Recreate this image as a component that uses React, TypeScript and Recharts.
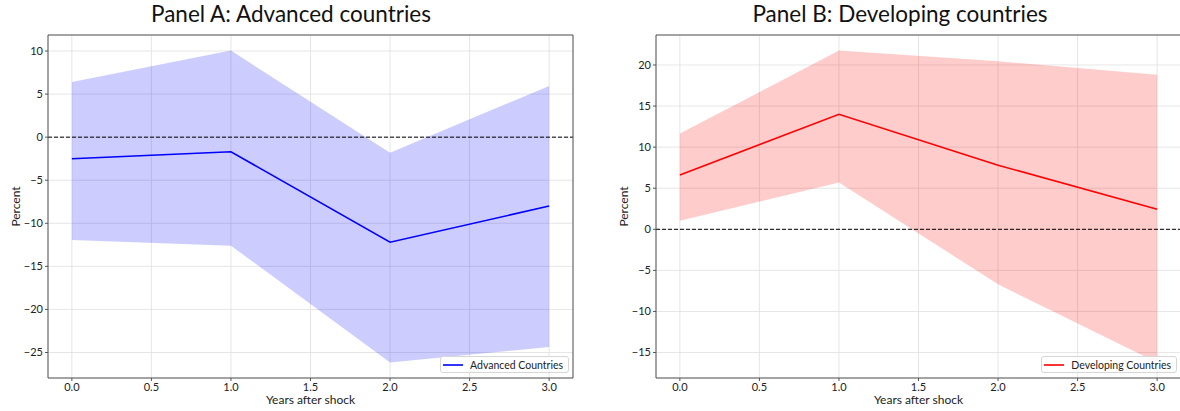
import React from 'react';
import { ComposedChart, Area, Line, XAxis, YAxis, CartesianGrid, ReferenceLine, Legend } from 'recharts';

const years = [0, 1, 2, 3];
const xTicks = [0, 0.5, 1, 1.5, 2, 2.5, 3];

const advEstimate = [-2.5, -1.7, -12.2, -8.0];
const advUpper = [6.4, 10.05, -1.8, 5.95];
const advLower = [-11.95, -12.6, -26.15, -24.35];
const advYTicks = [-25, -20, -15, -10, -5, 0, 5, 10];

const devEstimate = [6.6, 14.0, 7.8, 2.45];
const devUpper = [11.65, 21.75, 20.45, 18.8];
const devLower = [1.05, 5.7, -6.7, -16.2];
const devYTicks = [-15, -10, -5, 0, 5, 10, 15, 20];

const FONT = "Lato, 'Noto Sans', sans-serif";
const W = 590;
const H = 411;
const MARGIN = { top: 35, right: 17, bottom: 0, left: 0 };
const SPINE = '#555';

const LegendBox = (props: any) => {
  const items = (props.payload || []).filter((p: any) => p.type !== 'none');
  return (
    <div
      style={{
        display: 'inline-flex',
        alignItems: 'center',
        background: 'rgba(255,255,255,0.85)',
        border: '1px solid #d6d6d6',
        borderRadius: 3,
        padding: '0 5px 0 2px',
        height: 15,
        fontFamily: FONT,
        fontSize: 10.5,
        color: '#222',
        whiteSpace: 'nowrap',
      }}
    >
      {items.map((it: any) => (
        <React.Fragment key={it.value}>
          <svg width={20} height={4} style={{ display: 'block' }}>
            <line x1={0} x2={20} y1={2} y2={2} stroke={it.color} strokeWidth={1.6} />
          </svg>
          <span style={{ marginLeft: 7 }}>{it.value}</span>
        </React.Fragment>
      ))}
    </div>
  );
};

type PanelProps = {
  left: number;
  title: string;
  titleCenter: number;
  name: string;
  color: string;
  estimate: number[];
  upper: number[];
  lower: number[];
  yTicks: number[];
};

function Panel({ left, title, titleCenter, name, color, estimate, upper, lower, yTicks }: PanelProps) {
  const data = years.map((x, i) => ({ x, est: estimate[i], band: [lower[i], upper[i]] }));
  const lo = Math.min(...lower, ...estimate);
  const hi = Math.max(...upper, ...estimate);
  const pad = (hi - lo) * 0.05;
  const yDomain = [lo - pad, hi + pad];
  const xDomain = [-0.15, 3.15];
  return (
    <div style={{ position: 'absolute', left, top: 0, width: W, height: H }}>
      <div
        style={{
          position: 'absolute',
          left: titleCenter - 250,
          width: 500,
          top: 0,
          textAlign: 'center',
          fontFamily: FONT,
          fontSize: 22.5,
          lineHeight: 'normal',
          color: '#111',
          zIndex: 2,
        }}
      >
        {title}
      </div>
      <ComposedChart width={W} height={H} data={data} margin={MARGIN}>
        <CartesianGrid stroke="#e0e0e0" strokeWidth={0.8} />
        <XAxis
          dataKey="x"
          type="number"
          domain={xDomain}
          ticks={xTicks}
          allowDataOverflow
          tickFormatter={(v: number) => v.toFixed(1)}
          tick={{ fontFamily: FONT, fontSize: 11, fill: '#222' }}
          tickSize={3}
          tickMargin={2}
          stroke={SPINE}
          height={33}
          label={{
            content: (p: any) => {
              const vb = p.viewBox;
              return (
                <text x={vb.x + vb.width / 2} y={H - 7} textAnchor="middle" fontFamily={FONT} fontSize={12} fill="#222">
                  Years after shock
                </text>
              );
            },
          }}
        />
        <YAxis
          type="number"
          domain={yDomain}
          ticks={yTicks}
          allowDataOverflow
          tickFormatter={(v: number) => (v < 0 ? '\u2212' + Math.abs(v) : String(v))}
          tick={{ fontFamily: FONT, fontSize: 11, fill: '#222' }}
          tickSize={3}
          tickMargin={2}
          stroke={SPINE}
          width={48}
          label={{
            content: (p: any) => {
              const vb = p.viewBox;
              const cx = 15;
              const cy = vb.y + vb.height / 2;
              return (
                <text x={cx} y={cy} transform={`rotate(-90, ${cx}, ${cy})`} textAnchor="middle" dominantBaseline="central" fontFamily={FONT} fontSize={12} fill="#222">
                  Percent
                </text>
              );
            },
          }}
        />
        <Area
          dataKey="band"
          type="linear"
          fill={color}
          fillOpacity={0.2}
          stroke="none"
          legendType="none"
          isAnimationActive={false}
          activeDot={false}
        />
        <ReferenceLine y={0} stroke="#000" strokeDasharray="4 2" strokeWidth={1} />
        <ReferenceLine y={yDomain[1]} stroke={SPINE} strokeWidth={1} ifOverflow="visible" />
        <ReferenceLine x={xDomain[1]} stroke={SPINE} strokeWidth={1} ifOverflow="visible" />
        <Line
          dataKey="est"
          name={name}
          type="linear"
          stroke={color}
          strokeWidth={1.6}
          dot={false}
          activeDot={false}
          isAnimationActive={false}
        />
        <Legend
          layout="horizontal"
          verticalAlign="middle"
          align="center"
          content={LegendBox}
          wrapperStyle={{ left: 'auto', top: 'auto', right: 21, bottom: 38, width: 'auto', height: 'auto' }}
        />
      </ComposedChart>
    </div>
  );
}

export default function App() {
  return (
    <div style={{ position: 'absolute', left: 0, top: 0, width: 1180, height: 411, overflow: 'hidden', background: '#fff' }}>
      <Panel
        left={0}
        title="Panel A: Advanced countries"
        titleCenter={291}
        name="Advanced Countries"
        color="#0000ff"
        estimate={advEstimate}
        upper={advUpper}
        lower={advLower}
        yTicks={advYTicks}
      />
      <Panel
        left={608}
        title="Panel B: Developing countries"
        titleCenter={292}
        name="Developing Countries"
        color="#ff0000"
        estimate={devEstimate}
        upper={devUpper}
        lower={devLower}
        yTicks={devYTicks}
      />
    </div>
  );
}
